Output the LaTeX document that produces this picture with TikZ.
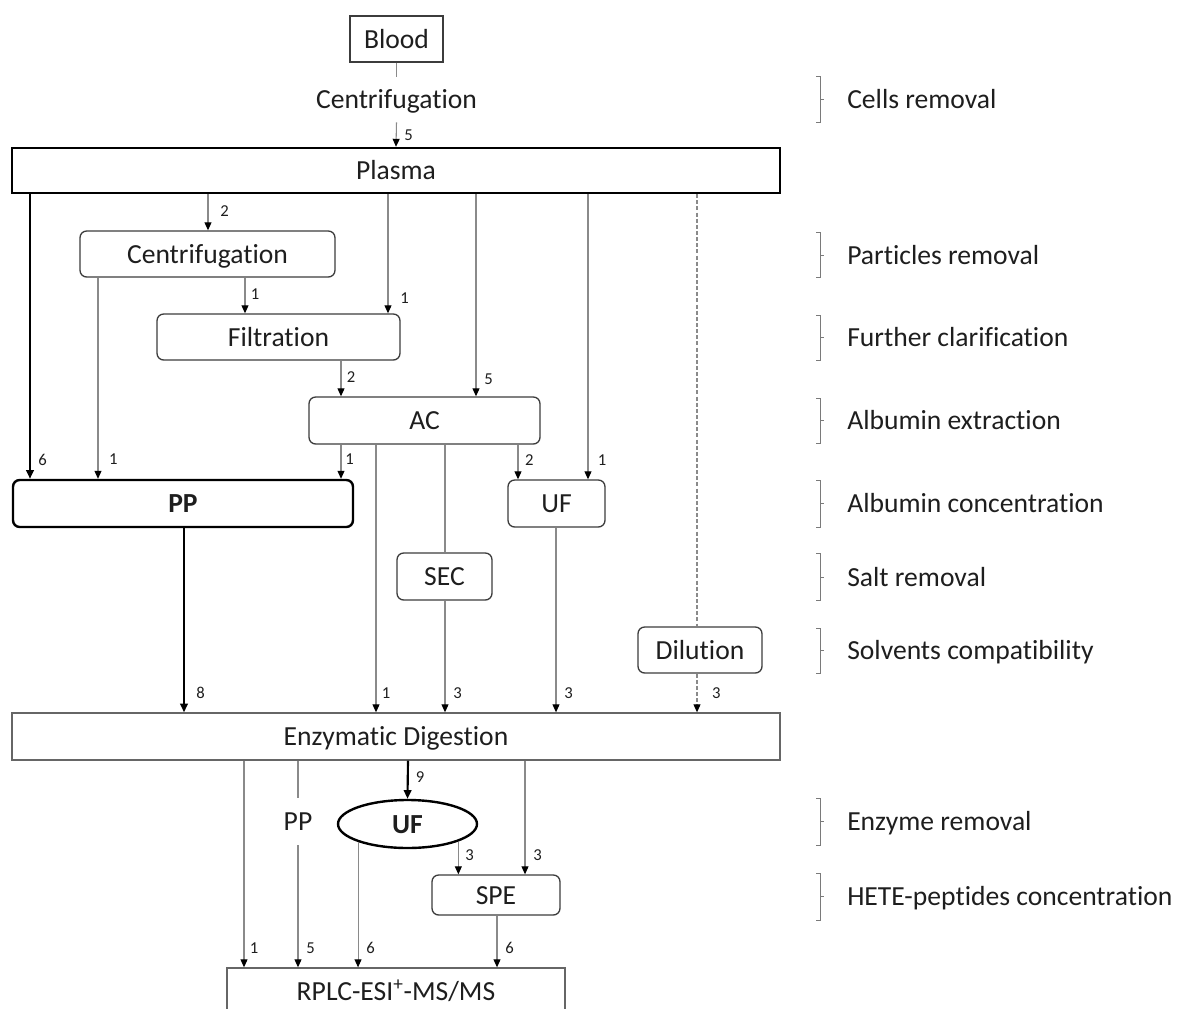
\documentclass[tikz,border=0pt]{standalone}
\usepackage{fontspec}
\setmainfont[Ligatures=NoCommon]{Carlito}
\usetikzlibrary{arrows.meta,shapes.geometric}
\definecolor{linegray}{HTML}{8A8A8A}
\definecolor{boxgray}{HTML}{3C3C3C}
\definecolor{edgray}{HTML}{666666}
\definecolor{brkgray}{HTML}{7A7A7A}
\definecolor{txt}{HTML}{1E1E1E}
\begin{document}
\begin{tikzpicture}[x=0.75pt,y=-0.75pt,
  every node/.style={text=txt},
  base/.style={font=\fontsize{20.7}{24}\selectfont, inner sep=0pt, text height=17.3pt, text depth=3.4pt, align=center},
  sz/.style 2 args={minimum width=#1*0.75pt, minimum height=#2*0.75pt},
  sbox/.style={base, draw=boxgray, line width=1pt},
  rbox/.style={sbox, rounded corners=5pt},
  hbox/.style={base, draw=black, line width=1.8pt},
  tip/.style={-{Triangle[length=6pt,width=5.2pt,color=black]}},
  conn/.style={draw=linegray, line width=0.8pt, tip},
  plainline/.style={draw=linegray, line width=0.8pt},
  heavy/.style={draw=black, line width=1.6pt, -{Triangle[length=6.5pt,width=5.6pt]}},
  dashline/.style={draw=linegray, line width=0.8pt, dash pattern=on 3pt off 1.6pt},
  num/.style={font=\fontsize{12.5}{14}\selectfont, inner sep=0pt, xshift=9.5pt, yshift=14.5pt},
  brk/.style={draw=brkgray, line width=0.7pt}
]
\useasboundingbox (0,0) rectangle (1183,1008);

% nodes
\node[sbox, sz={93}{46}] (blood) at (396.5,39) {Blood};
\node[base, sz={170}{45}] (cent1) at (396.5,99.5) {Centrifugation};
\node[hbox, sz={768}{45}] (plasma) at (396,170.5) {Plasma};
\node[rbox, sz={255}{46}] (cen2) at (207.5,254) {Centrifugation};
\node[rbox, sz={243}{46}] (filt) at (278.5,337) {Filtration};
\node[rbox, sz={231}{47}] (ac) at (424.5,420.5) {AC};
\node[hbox, rounded corners=5pt, sz={340}{47}] (pp) at (183,503.5) {\bfseries PP};
\node[rbox, sz={97}{47}] (uf1) at (556.5,503.5) {UF};
\node[rbox, sz={95}{47}] (sec) at (444.5,576.5) {SEC};
\node[rbox, sz={124}{46}] (dil) at (700,650) {Dilution};
\node[sbox, draw=edgray, sz={768}{47}] (ed) at (396,736.5) {Enzymatic Digestion};
\node[hbox, ellipse, sz={139}{48}] (uf2) at (407.5,824) {\bfseries UF};
\node[base, sz={40}{47}] (pp2) at (298,821.5) {PP};
\node[rbox, sz={128}{40}] (spe) at (496,895) {SPE};
\node[sbox, draw=edgray, sz={338}{47}] (rplc) at (396,991.5) {RPLC-ESI\textsuperscript{+}-MS/MS};

% connectors, top part
\draw[plainline] (blood.south) -- (cent1.north);
\draw[conn] (cent1.south) -- (plasma.north) node[num, yshift=-6pt]{5};
\draw[heavy] (30,0 |- plasma.south) -- (30,0 |- pp.north) node[num]{6};
\draw[conn] (208,0 |- plasma.south) -- (208,0 |- cen2.north) node[num, xshift=3pt]{2};
\draw[conn] (245,0 |- cen2.south) -- (245,0 |- filt.north) node[num, xshift=-2pt]{1};
\draw[conn] (98,0 |- cen2.south) -- (98,0 |- pp.north) node[num, xshift=2pt]{1};
\draw[conn] (388,0 |- plasma.south) -- (388,0 |- filt.north) node[num, xshift=3pt, yshift=-3pt]{1};
\draw[conn] (341,0 |- filt.south) -- (341,0 |- ac.north) node[num, xshift=-2pt]{2};
\draw[conn] (476,0 |- plasma.south) -- (476,0 |- ac.north) node[num, yshift=-2pt]{5};
\draw[conn] (341,0 |- ac.south) -- (341,0 |- pp.north) node[num, xshift=-3pt]{1};
\draw[conn] (376,0 |- ac.south) -- (376,0 |- ed.north) node[num, xshift=-2pt]{1};
\draw[plainline] (445,0 |- ac.south) -- (445,0 |- sec.north);
\draw[conn] (445,0 |- sec.south) -- (445,0 |- ed.north) node[num]{3};
\draw[conn] (518,0 |- ac.south) -- (518,0 |- uf1.north) node[num, xshift=-1pt]{2};
\draw[conn] (588,0 |- plasma.south) -- (588,0 |- uf1.north) node[num, xshift=1pt]{1};
\draw[conn] (556,0 |- uf1.south) -- (556,0 |- ed.north) node[num]{3};
\draw[dashline] (697,0 |- plasma.south) -- (697,0 |- dil.north);
\draw[dashline, tip] (697,0 |- dil.south) -- (697,0 |- ed.north) node[num, xshift=5pt]{3};
\draw[heavy] (184,0 |- pp.south) -- (184,0 |- ed.north) node[num, xshift=3pt]{8};

% connectors, bottom part
\draw[conn] (244,0 |- ed.south) -- (244,0 |- rplc.north) node[num, xshift=-2pt]{1};
\draw[plainline] (298,0 |- ed.south) -- (pp2.north);
\draw[conn] (pp2.south) -- (298,0 |- rplc.north) node[num]{5};
\draw[heavy] (408,0 |- ed.south) -- (uf2.north) node[num, yshift=2pt]{9};
\draw[conn] (uf2.-160) -- (uf2.-160 |- rplc.north) node[num]{6};
\draw[conn] (uf2.-19) -- (uf2.-19 |- spe.north) node[num, xshift=-1pt]{3};
\draw[conn] (525,0 |- ed.south) -- (525,0 |- spe.north) node[num]{3};
\draw[conn] (497,0 |- spe.south) -- (497,0 |- rplc.north) node[num]{6};

% side brackets and step labels
\foreach \t/\b/\m/\txt [count=\i] in {
  76/122/99/Cells removal,
  232/277/255/Particles removal,
  315/360/337/Further clarification,
  398/443/420/Albumin extraction,
  480/527/503/Albumin concentration,
  553/600/577/Salt removal,
  628/673/650/Solvents compatibility,
  798/845/821/Enzyme removal,
  873/920/896/HETE-peptides concentration}{
  \draw[brk] (816,\t) -- (820,\t) -- (820,\b) -- (816,\b) (820,\m) -- (823.5,\m);
  \node[base, anchor=west] (side\i) at (847,\m) {\txt};
}
\end{tikzpicture}
\end{document}
